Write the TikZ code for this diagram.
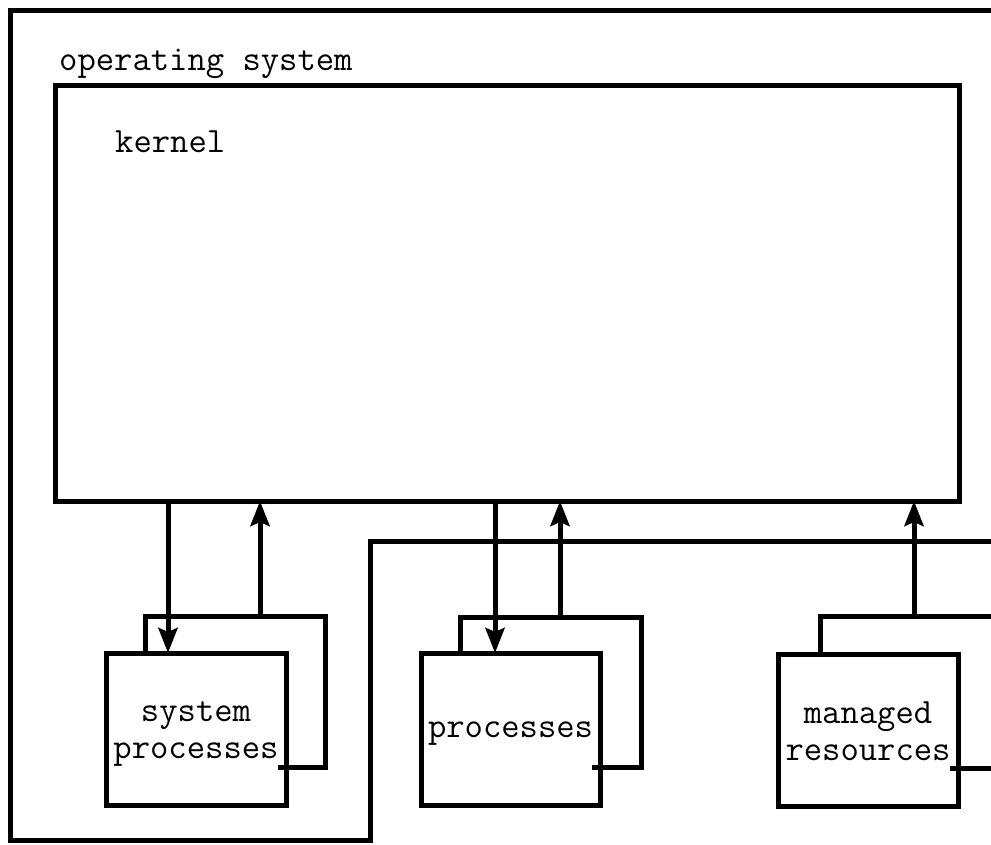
\documentclass[tikz,border=0pt]{standalone}
\usetikzlibrary{calc,arrows.meta}

\tikzset{
  wire/.style={line width=5pt, line join=miter},
  tt/.style={font=\ttfamily\fontsize{35.6}{37}\selectfont},
  box/.style={draw, line width=5pt, rectangle, inner sep=0pt, outer sep=0pt},
  procbox/.style={box, minimum width=180pt, minimum height=152pt, fill=white},
  boxtext/.style={tt, inner sep=0pt, align=center},
  arr/.style={wire, -{Stealth[length=25pt, width=19pt, inset=4pt]}},
  lbl/.style={tt, inner sep=0pt, anchor=base west},
}

\begin{document}
\begin{tikzpicture}[x=1pt, y=-1pt]
  \useasboundingbox (0,0) rectangle (991,844);

  % operating system boundary (open towards the right edge)
  \coordinate (osTR) at (1000,10);
  \coordinate (osTL) at (10,10);
  \coordinate (osBL) at (10,840);
  \coordinate (osBM) at (370,840);
  \coordinate (osNotch) at (370,541);
  \coordinate (osR) at (1000,541);
  \draw[wire] (osTR) -- (osTL) -- (osBL) -- (osBM) -- (osNotch) -- (osR);
  \node[lbl] (oslabel) at (59,70) {operating system};

  % kernel
  \node[box, minimum width=904pt, minimum height=416pt] (kernel) at (507,293) {};
  \node[lbl] (klabel) at (115,152) {kernel};

  % back boxes (stacked copies behind the front boxes)
  \coordinate (sysTL) at (145,616);
  \coordinate (sysBR) at (325,767);
  \coordinate (prTL) at (460,617);
  \coordinate (prBR) at (641,767);
  \coordinate (mrTL) at (820,616);
  \coordinate (mrBR) at (1000,768);

  % front boxes
  \node[procbox] (sys) at (196,729) {};
  \node[procbox, minimum width=179pt] (proc) at (510.5,729) {};
  \node[procbox] (mres) at (868,730) {};
  \node[boxtext] (systext) at ([yshift=-5pt]sys.center) {system\\processes};
  \node[boxtext] (proctext) at ([yshift=-5pt]proc.center) {processes};
  \node[boxtext] (mrestext) at ([yshift=-1pt]mres.center) {managed\\resources};

  % outlines of the back boxes
  \draw[wire] (sysTL |- sys.north) -- (sysTL) -- (sysTL -| sysBR) -- (sysBR)
              -- ([xshift=-8pt]sys.east |- sysBR);
  \draw[wire] (prTL |- proc.north) -- (prTL) -- (prTL -| prBR) -- (prBR)
              -- ([xshift=-8pt]proc.east |- prBR);
  \draw[wire] (mrTL |- mres.north) -- (mrTL) -- (mrTL -| mrBR);
  \draw[wire] (mrBR) -- ([xshift=-8pt]mres.east |- mrBR);

  % connectors between kernel and the process groups
  \coordinate (sysdn) at (168,0);
  \coordinate (sysup) at (260,0);
  \coordinate (prdn) at (495,0);
  \coordinate (prup) at (560,0);
  \coordinate (mrup) at (914,0);
  \draw[arr] (sysdn |- kernel.south) -- (sysdn |- sys.north);
  \draw[arr] (sysup |- sysTL) -- (sysup |- kernel.south);
  \draw[arr] (prdn |- kernel.south) -- (prdn |- proc.north);
  \draw[arr] (prup |- prTL) -- (prup |- kernel.south);
  \draw[arr] (mrup |- mrTL) -- (mrup |- kernel.south);
\end{tikzpicture}
\end{document}
